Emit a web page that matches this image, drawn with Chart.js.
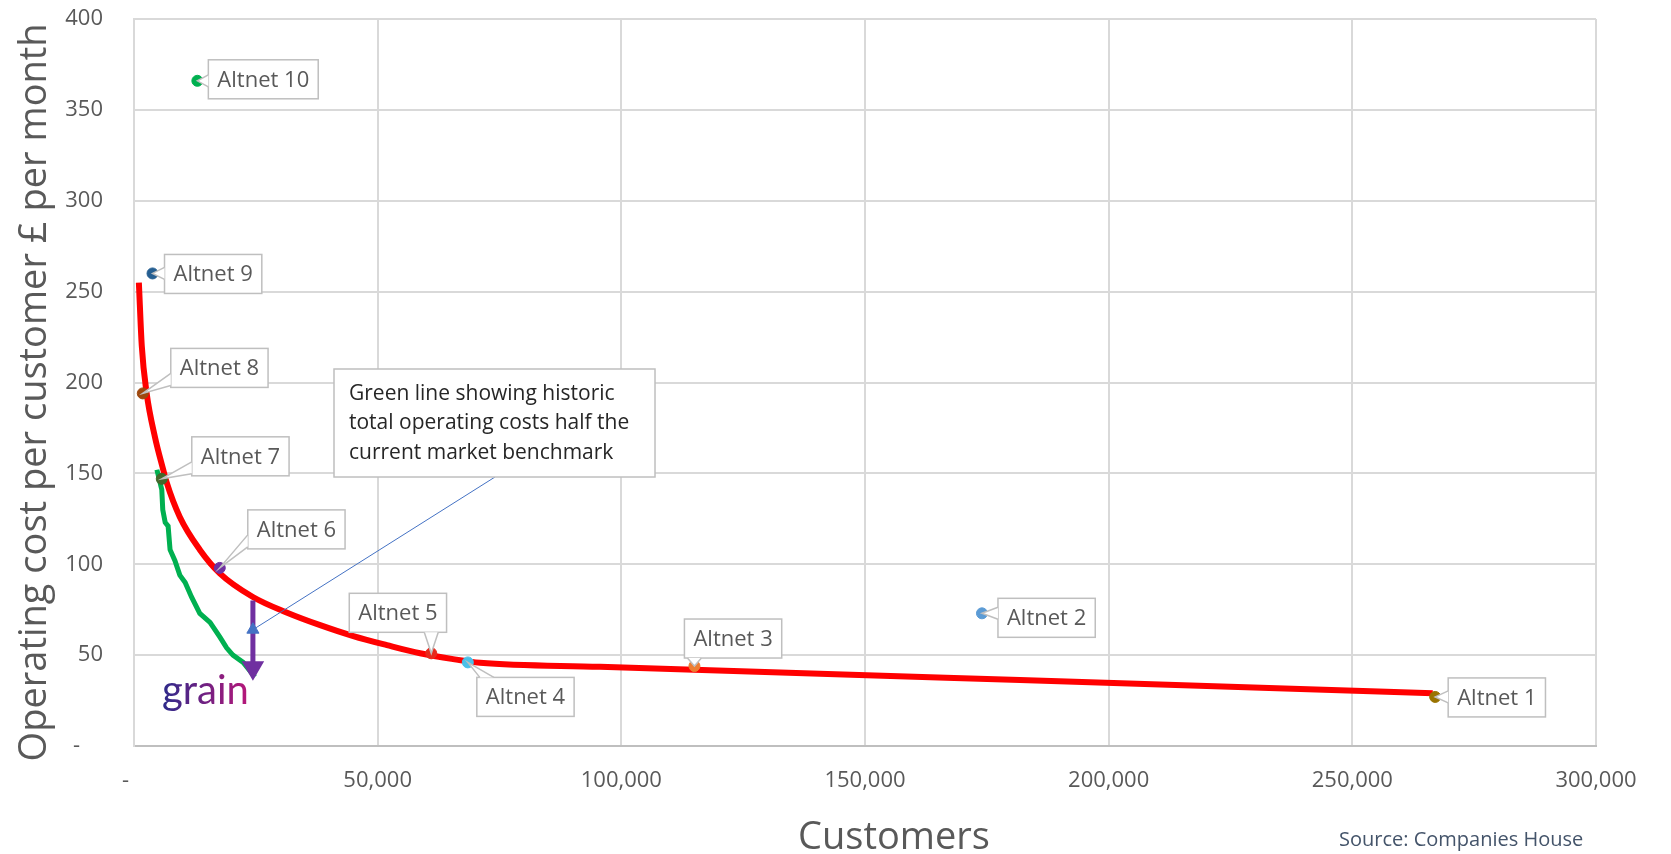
<!DOCTYPE html>
<html lang="en">
<head>
<meta charset="UTF-8">
<title>Operating cost per customer vs customers</title>
<script src="https://cdn.jsdelivr.net/npm/chart.js"></script>
<style>
  body { margin: 0; background: #ffffff; }
  #wrap { width: 1671px; height: 854px; position: relative; }
</style>
</head>
<body>
<div id="wrap"><canvas id="chart"></canvas></div>
<script>
// Altnet operators: customers vs monthly operating cost per customer (£)
const altnetNames = ['Altnet 1', 'Altnet 2', 'Altnet 3', 'Altnet 4', 'Altnet 5',
                     'Altnet 6', 'Altnet 7', 'Altnet 8', 'Altnet 9', 'Altnet 10'];
const altnetCustomers = [267000, 174000, 115000, 68500, 61000, 17600, 5700, 1800, 3800, 13000];
const altnetCost = [27, 73, 44, 46, 51, 98, 147, 194, 260, 366];
const altnetColors = ['#997300', '#5b9bd5', '#ed7d31', '#4bc0e8', '#e8291c',
                      '#7030a0', '#43682b', '#9e480e', '#255e91', '#00b050'];

// red benchmark curve
const benchCustomers = [1000, 1600, 2600, 4300, 6000, 6700, 9400, 13500, 17600, 24400, 31300,
                        38200, 45000, 51900, 58700, 65500, 71000, 95600, 150400, 181800, 239300, 266500];
const benchCost = [255, 220, 194, 170, 152, 145, 126, 108, 95, 82, 73.5,
                   66.5, 60.5, 55.5, 51, 47.8, 45.8, 43.6, 38.9, 36.3, 31.4, 29];

// green historic curve
const histCustomers = [4700, 5700, 5900, 6400, 7000, 7400, 8400, 9400, 10500, 11800,
                       13500, 15600, 17600, 19000, 20300, 22400, 24800];
const histCost = [152, 141, 130, 123, 121, 108, 102, 94, 90, 82,
                  73, 68, 60, 54, 50, 46, 38];

// purple gap arrow and its marker
const arrowCustomers = [24400, 24400];
const arrowCost = [80, 43];
const markerCustomers = [24400];
const markerCost = [64];

const xTicks = [0, 50000, 100000, 150000, 200000, 250000, 300000];
const yTicks = [0, 50, 100, 150, 200, 250, 300, 350, 400];

const noteLines = ['Green line showing historic', 'total operating costs half the', 'current market benchmark'];

// label box offsets from each point, in pixels
const calloutOffsets = [[13, -19], [16, -15], [-10, -47], [9, 15], [-82, -60],
                        [28, -58], [30, -42], [28, -45], [12, -19], [11, -21]];

const FONT = '"Open Sans", "Liberation Sans", sans-serif';
const GREY = '#595959';

const toXY = (xs, ys) => xs.map((x, i) => ({ x: x, y: ys[i] }));

function drawCallout(ctx, px, py, bx, by, text) {
  ctx.font = '22px ' + FONT;
  const w = ctx.measureText(text).width + 18, h = 39;
  ctx.fillStyle = '#ffffff';
  ctx.strokeStyle = '#bfbfbf';
  ctx.lineWidth = 1.5;
  ctx.fillRect(bx, by, w, h);
  ctx.strokeRect(bx, by, w, h);

  // pointer wedge from box edge to the point
  const dxOut = px < bx ? bx - px : (px > bx + w ? px - bx - w : 0);
  const dyOut = py < by ? by - py : (py > by + h ? py - by - h : 0);
  let b1, b2;
  if (dxOut >= dyOut) {
    const ex = px < bx ? bx : bx + w;
    const cy = Math.min(Math.max(py, by + 8), by + h - 8);
    b1 = [ex, cy - 6]; b2 = [ex, cy + 6];
  } else {
    const ey = py < by ? by : by + h;
    const cx = Math.min(Math.max(px, bx + 10), bx + w - 10);
    b1 = [cx - 7, ey]; b2 = [cx + 7, ey];
  }
  ctx.beginPath();
  ctx.moveTo(b1[0], b1[1]); ctx.lineTo(px, py); ctx.lineTo(b2[0], b2[1]);
  ctx.closePath();
  ctx.fill();
  ctx.beginPath();
  ctx.moveTo(b1[0], b1[1]); ctx.lineTo(px, py); ctx.lineTo(b2[0], b2[1]);
  ctx.stroke();

  ctx.fillStyle = GREY;
  ctx.textBaseline = 'middle';
  ctx.textAlign = 'left';
  ctx.fillText(text, bx + 9, by + h / 2 + 1);
}

const annotations = {
  id: 'annotations',
  afterDatasetsDraw(chart) {
    const ctx = chart.ctx;
    const xs = chart.scales.x, ys = chart.scales.y;
    const area = chart.chartArea;
    ctx.save();

    // note box with blue leader to the gap marker
    const nx = area.left + 200, ny = area.top + 350, nw = 321, nh = 108;
    const mx = xs.getPixelForValue(markerCustomers[0]);
    const my = ys.getPixelForValue(markerCost[0]);
    ctx.strokeStyle = '#4472c4';
    ctx.lineWidth = 1;
    ctx.beginPath();
    ctx.moveTo(mx, my);
    ctx.lineTo(nx + 161, ny + nh);
    ctx.stroke();
    ctx.fillStyle = '#ffffff';
    ctx.strokeStyle = '#bfbfbf';
    ctx.lineWidth = 1.5;
    ctx.fillRect(nx, ny, nw, nh);
    ctx.strokeRect(nx, ny, nw, nh);
    ctx.fillStyle = '#262626';
    ctx.font = '21px ' + FONT;
    ctx.textBaseline = 'middle';
    ctx.textAlign = 'left';
    noteLines.forEach((t, i) => ctx.fillText(t, nx + 15, ny + 25 + i * 29.5));

    // altnet labels
    altnetNames.forEach((name, i) => {
      const px = xs.getPixelForValue(altnetCustomers[i]);
      const py = ys.getPixelForValue(altnetCost[i]);
      drawCallout(ctx, px, py, px + calloutOffsets[i][0], py + calloutOffsets[i][1], name);
    });

    // logo
    const g = ctx.createLinearGradient(area.left + 29, 0, area.left + 112, 0);
    g.addColorStop(0, '#2e2a8a');
    g.addColorStop(1, '#b3187a');
    ctx.fillStyle = g;
    ctx.font = '40px Lato, ' + FONT;
    ctx.textBaseline = 'alphabetic';
    ctx.fillText('grain', area.left + 28, area.top + 685);

    // x axis title and source
    ctx.fillStyle = GREY;
    ctx.font = '38px ' + FONT;
    ctx.textAlign = 'center';
    ctx.textBaseline = 'middle';
    ctx.fillText('Customers', 894, 838);
    ctx.fillStyle = '#44546a';
    ctx.font = '20px ' + FONT;
    ctx.textAlign = 'left';
    ctx.fillText('Source: Companies House', 1339, 840);
    ctx.restore();
  }
};

const ctx = document.getElementById('chart').getContext('2d');

const datasets = [
  {
    type: 'line',
    data: toXY(benchCustomers, benchCost),
    borderColor: '#ff0000',
    borderWidth: 6,
    pointRadius: 0,
    cubicInterpolationMode: 'monotone',
    order: 2
  },
  {
    type: 'line',
    data: toXY(histCustomers, histCost),
    borderColor: '#00b050',
    borderWidth: 5,
    pointRadius: 0,
    order: 3
  },
  {
    type: 'line',
    data: toXY(arrowCustomers, arrowCost),
    borderColor: '#7030a0',
    backgroundColor: '#7030a0',
    borderWidth: 5,
    pointStyle: 'triangle',
    pointRadius: [0, 8],
    pointRotation: 180,
    order: 1
  },
  {
    type: 'scatter',
    data: toXY(markerCustomers, markerCost),
    pointStyle: 'triangle',
    pointRadius: 7,
    backgroundColor: '#4472c4',
    borderColor: '#4472c4',
    order: 0
  },
  {
    type: 'scatter',
    data: toXY(altnetCustomers, altnetCost),
    pointRadius: 5.5,
    backgroundColor: altnetColors,
    borderColor: altnetColors,
    order: 1
  }
];

new Chart(ctx, {
  type: 'scatter',
  data: { datasets: datasets },
  plugins: [annotations],
  options: {
    responsive: true,
    maintainAspectRatio: false,
    animation: false,
    layout: { padding: { left: 0, top: 19, right: 75, bottom: 0 } },
    plugins: { legend: { display: false }, tooltip: { enabled: false } },
    scales: {
      x: {
        type: 'linear',
        min: 0,
        max: 300000,
        afterBuildTicks: (scale) => { scale.ticks = xTicks.map(v => ({ value: v })); },
        afterFit: (scale) => { scale.height = 108; scale.paddingLeft = 0; scale.paddingRight = 0; },
        grid: { color: '#d9d9d9', lineWidth: 2, drawTicks: false },
        border: { color: '#bfbfbf', width: 2 },
        ticks: {
          color: GREY,
          padding: 22,
          maxRotation: 0,
          font: { family: FONT, size: 22 },
          callback: (v) => v === 0 ? '-   ' : v.toLocaleString('en-GB')
        }
      },
      y: {
        type: 'linear',
        min: 0,
        max: 400,
        afterBuildTicks: (scale) => { scale.ticks = yTicks.map(v => ({ value: v })); },
        afterFit: (scale) => { scale.width = 134; scale.paddingTop = 0; scale.paddingBottom = 0; },
        grid: { color: '#d9d9d9', lineWidth: 2, drawTicks: false },
        border: { color: '#d9d9d9', width: 2 },
        ticks: {
          color: GREY,
          padding: 31,
          font: { family: FONT, size: 22 },
          callback: (v) => v === 0 ? '-    ' : String(v)
        },
        title: {
          display: true,
          text: 'Operating cost per customer £ per month\u00a0\u00a0',
          color: GREY,
          padding: { top: 12, bottom: 0 },
          font: { family: FONT, size: 38, lineHeight: 1.2 }
        }
      }
    }
  }
});
</script>
</body>
</html>
